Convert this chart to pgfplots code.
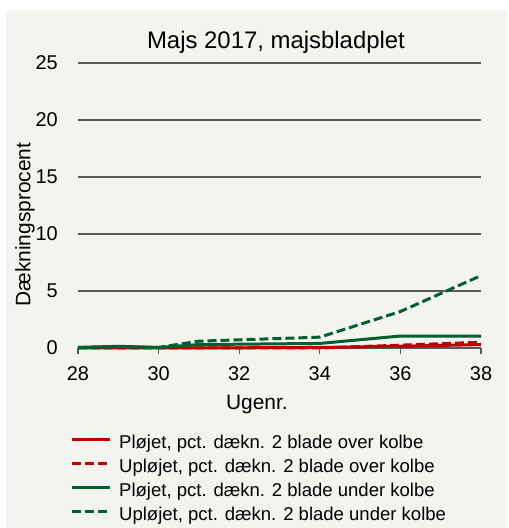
\documentclass[border=0pt]{standalone}
\usepackage{fontspec}
\setmainfont{Liberation Sans}
\usepackage{pgfplots}
\pgfplotsset{compat=1.18}
\definecolor{bgc}{RGB}{243,243,239}
\definecolor{myred}{RGB}{192,0,0}
\definecolor{mygreen}{RGB}{0,96,48}
\definecolor{gridc}{RGB}{89,89,89}
\begin{document}
\begin{tikzpicture}[x=1bp,y=1bp]
\fill[white] (0,0) rectangle (509,528);
\fill[bgc] (6,0) rectangle (507,518);
\path[use as bounding box] (0,0) rectangle (509,528);
\begin{axis}[
  at={(78bp,180bp)}, anchor=south west,
  scale only axis, width=403bp, height=285bp,
  xmin=28, xmax=38, ymin=0, ymax=25,
  xtick={28,30,32,34,36,38}, ytick={0,5,10,15,20,25},
  axis line style={draw=none},
  ymajorgrids, grid style={gridc, line width=1.2bp},
  tick align=outside, xtick pos=bottom, ytick pos=left,
  major tick length=6bp,
  xtick style={gridc, line width=1.2bp},
  ytick style={draw=none},
  /pgf/number format/assume math mode=true,
  ticklabel style={font=\fontsize{20}{24}\selectfont},
  xticklabel style={anchor=north, inner sep=0pt, yshift=-12bp},
  yticklabel style={anchor=east, inner sep=0pt, xshift=-14bp},
  label style={font=\fontsize{21}{25}\selectfont},
  xlabel={Ugenr.},
  xlabel style={at={(axis description cs:0.444,-0.2175)}, anchor=base, inner sep=0pt},
  ylabel={Dækningsprocent},
  ylabel style={at={(axis description cs:-0.118,0.433)}, anchor=base, inner sep=0pt},
  clip=false,
  legend cell align=left,
  legend image code/.code={\draw[#1] (0bp,4.5bp) -- (38bp,4.5bp);},
  legend style={at={(axis description cs:-0.0199,-0.303)}, anchor=north west,
    draw=none, fill=none, inner sep=0pt, row sep=6.1bp, column sep=0bp,
    font=\fontsize{18.6}{22}\selectfont,
    nodes={inner sep=0pt, text height=14bp, text depth=4bp},
    /tikz/every odd column/.style={column sep=8bp}},
]
\addplot[myred, line width=3bp] coordinates {(28,0) (29,0) (30,0) (31,0) (34,0.05) (36,0.15) (38,0.3)};
\addlegendentry{Pløjet, pct. dækn. 2 blade over kolbe}
\addplot[myred, line width=3bp, dash pattern=on 9bp off 4bp] coordinates {(28,0) (29,0) (30,0) (31,0) (34,0) (36,0.25) (38,0.5)};
\addlegendentry{Upløjet, pct. dækn. 2 blade over kolbe}
\addplot[mygreen, line width=3bp] coordinates {(28,0.05) (29,0.15) (30,0.05) (31,0.3) (34,0.4) (36,1.05) (38,1.05)};
\addlegendentry{Pløjet, pct. dækn. 2 blade under kolbe}
\addplot[mygreen, line width=3bp, dash pattern=on 9bp off 4bp] coordinates {(28,0.05) (29,0.1) (30,0.05) (31,0.6) (34,0.95) (36,3.2) (38,6.35)};
\addlegendentry{Upløjet, pct. dækn. 2 blade under kolbe}
\end{axis}
\node[anchor=base, font=\fontsize{24}{28}\selectfont] at (276,479) {Majs 2017, majsbladplet};
\end{tikzpicture}
\end{document}
